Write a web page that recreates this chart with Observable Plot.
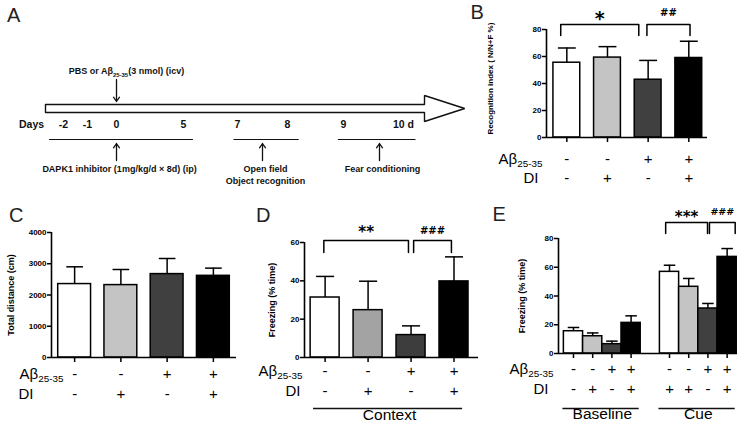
<!DOCTYPE html>
<html><head><meta charset="utf-8">
<script src="https://cdn.jsdelivr.net/npm/d3@7"></script>
<script src="https://cdn.jsdelivr.net/npm/@observablehq/plot@0.6"></script>
<style>
body{margin:0;background:#fff;}
#fig{position:relative;width:750px;height:429px;overflow:hidden;background:#fff;font-family:"Liberation Sans",Arial,sans-serif;}
.pane{position:absolute;}
.pane svg{display:block;overflow:visible;}
.letter{position:absolute;font-size:20px;line-height:20px;color:#222;}
</style></head><body><div id="fig"></div>
<script>
// ---------------- data ----------------
// Panel A: timeline
const dayValues = [-2, -1, 0, 5, 7, 8, 9, 10];
const dayLabels = ["-2", "-1", "0", "5", "7", "8", "9", "10 d"];
const phaseStart = [-2.6, 6.85, 8.9];
const phaseEnd = [5.35, 8.2, 10.2];
const phaseMarkDay = [0, 7.5, 9.6];
const phaseLabels = ["DAPK1 inhibitor (1mg/kg/d × 8d) (ip)", "Open field\nObject recognition", "Fear conditioning"];
const injectionDay = 0;
const injectionLabel = "PBS or Aβ_{25-35}(3 nmol) (icv)";
const timelineFrom = -2.75, timelineHead = 10.35, timelineTip = 11.02;

// Group coding
const abSigns = ["-", "-", "+", "+"];
const diSigns = ["-", "+", "-", "+"];
const cueDiSigns = ["+", "+", "-", "+"];

// Panel B: recognition index
const recogMean = [55.4, 59.2, 42.8, 58.9];
const recogErr  = [10.9, 8.1, 14.3, 12.4];
const recogTicks = [0, 20, 40, 60, 80];
const recogSig = [{from: -0.15, to: 1.77, label: "*"}, {from: 1.97, to: 3.03, label: "##"}];

// Panel C: total distance
const distMean = [2350, 2317, 2669, 2614];
const distErr  = [552, 499, 499, 246];
const distTicks = [0, 1000, 2000, 3000, 4000];

// Panel D: context freezing
const contextMean = [31.3, 24.7, 11.7, 39.7];
const contextErr  = [11.0, 15.1, 4.8, 12.8];
const contextTicks = [0, 20, 40, 60];
const contextSig = [{from: -0.03, to: 1.94, label: "**"}, {from: 2.06, to: 2.94, label: "###"}];

// Panel E: baseline / cue freezing
const baselineMean = [15.5, 12.0, 6.5, 21.3];
const baselineErr  = [2.6, 2.3, 2.1, 4.9];
const cueMean = [56.8, 46.4, 31.3, 67.2];
const cueErr  = [4.6, 5.8, 3.5, 5.8];
const cueTicks = [0, 20, 40, 60, 80];
const cueSig = [{from: 4.8, to: 6.98, label: "***"}, {from: 7.08, to: 8.42, label: "###"}];

// ---------------- helpers ----------------
const FONT = '"Liberation Sans", Arial, Helvetica, sans-serif';
const fig = document.getElementById("fig");
const NS = "http://www.w3.org/2000/svg";

function doSub(el) {
  const m = el.textContent.match(/^(.*?)_\{(.*?)\}(.*)$/);
  if (!m) return;
  el.textContent = "";
  const a = document.createElementNS(NS, "tspan"); a.textContent = m[1];
  const b = document.createElementNS(NS, "tspan"); b.textContent = m[2];
  b.style.fontSize = "66%"; b.setAttribute("dy", "0.4em");
  el.append(a, b);
  if (m[3]) {
    const c = document.createElementNS(NS, "tspan"); c.textContent = m[3];
    c.setAttribute("dy", "-0.264em"); el.append(c);
  }
}
function subify(svg) {
  svg.querySelectorAll("text").forEach(t => {
    const ts = t.querySelectorAll("tspan");
    if (ts.length) ts.forEach(doSub); else doSub(t);
  });
}
function place(node, left, top) {
  const d = document.createElement("div");
  d.className = "pane"; d.style.left = left + "px"; d.style.top = top + "px";
  d.appendChild(node); fig.appendChild(d);
  subify(node);
}
function letter(ch, left, top) {
  const d = document.createElement("div");
  d.className = "letter"; d.textContent = ch;
  d.style.left = left + "px"; d.style.top = top + "px";
  fig.appendChild(d);
}

// ---------------- Panel A ----------------
// the schematic's day axis is not uniform: a piecewise mapping of days along the timeline
const dayPos = d3.scaleLinear().domain(dayValues).range([63, 87, 116, 183, 237, 287, 343, 403]);
const days = dayValues.map((d, i) => ({day: d, label: dayLabels[i]}));
const phases = phaseStart.map((s, i) => ({start: s, end: phaseEnd[i], mark: phaseMarkDay[i], label: phaseLabels[i]}));
const arrowPts = [
  {x: timelineFrom, y: 104}, {x: timelineHead, y: 104}, {x: timelineHead, y: 95},
  {x: timelineTip, y: 108}, {x: timelineHead, y: 121}, {x: timelineHead, y: 112},
  {x: timelineFrom, y: 112}, {x: timelineFrom, y: 104}
];
const panelA = Plot.plot({
  width: 470, height: 200, margin: 0,
  style: {fontFamily: FONT, background: "transparent", color: "#111"},
  x: {type: "linear", transform: dayPos, domain: [0, 470], range: [0, 470], axis: null},
  y: {domain: [0, 200], range: [0, 200], axis: null},
  marks: [
    Plot.line(arrowPts, {x: "x", y: "y", fill: "white", stroke: "#111", strokeWidth: 1.4, strokeLinejoin: "miter"}),
    Plot.text(days, {x: "day", y: 124, text: "label", fontSize: 10.5, fontWeight: "bold"}),
    Plot.text(["Days"], {x: () => -3.33, y: 124, text: d => d, fontSize: 10.5, fontWeight: "bold"}),
    Plot.link(phases, {x1: "start", x2: "end", y1: 139, y2: 139, stroke: "#111", strokeWidth: 1.2}),
    Plot.arrow(phases, {x1: "mark", x2: "mark", y1: 160, y2: 143, stroke: "#111", strokeWidth: 1.3, headLength: 6, headAngle: 70}),
    Plot.text(phases, {x: "mark", y: 163, text: "label", lineAnchor: "top", lineHeight: 1.33, fontSize: 9, fontWeight: "bold", dx: 3}),
    Plot.arrow([injectionDay], {x1: d => d, x2: d => d, y1: 79, y2: 101, stroke: "#111", strokeWidth: 1.3, headLength: 6, headAngle: 70}),
    Plot.text([injectionLabel], {x: () => injectionDay, y: 71, text: d => d, dx: 10, fontSize: 9, fontWeight: "bold"})
  ]
});
place(panelA, 0, 0);

// ---------------- bar panels ----------------
function barPanel(o) {
  const rows = o.means.map((m, i) => ({x: o.slots[i], m, top: m + o.errs[i], fill: o.fills[i], ab: o.ab[i], di: o.di[i]}));
  const bw = o.barW, cw = o.capW;
  const sig = o.sig || [];
  const pts = sig.flatMap((b, k) => [
    {k, x: b.from, y: o.legY}, {k, x: b.from, y: o.topY}, {k, x: b.to, y: o.topY}, {k, x: b.to, y: o.legY}
  ]);
  const marks = [
    Plot.rect(rows, {x1: d => d.x - bw / 2, x2: d => d.x + bw / 2, y1: 0, y2: "m", fill: "fill", stroke: "#000", strokeWidth: 1.5}),
    Plot.ruleX(rows, {x: "x", y1: "m", y2: "top", stroke: "#000", strokeWidth: 1.5}),
    Plot.link(rows, {x1: d => d.x - cw / 2, x2: d => d.x + cw / 2, y1: "top", y2: "top", stroke: "#000", strokeWidth: 1.5}),
    Plot.ruleY([0], {stroke: "#000", strokeWidth: 1.6}),
    Plot.ruleX([o.xDomain[0]], {stroke: "#000", strokeWidth: 1.6}),
    Plot.axisY(o.yTicks, {tickSize: 4, tickPadding: 1, tickFormat: d => String(d), fontSize: 8, fontWeight: "bold", strokeWidth: 1.5, label: null}),
    Plot.axisX(o.slots, {tickSize: 5, tickFormat: () => "", strokeWidth: 1.5, label: null}),
    Plot.text([o.yTitle], {text: d => d, frameAnchor: "left", textAnchor: "middle", rotate: -90, dx: o.titleDx, dy: o.titleDy || 0, fontSize: o.titleSize, fontWeight: "bold"}),
    Plot.text(rows, {x: "x", text: "ab", frameAnchor: "bottom", dy: o.abDy, fontSize: 15}),
    Plot.text(rows, {x: "x", text: "di", frameAnchor: "bottom", dy: o.diDy, fontSize: 15}),
    Plot.text(["Aβ_{25-35}"], {text: d => d, frameAnchor: "bottom-left", textAnchor: "end", dx: o.abLabelDx, dy: o.abDy, fontSize: 15}),
    Plot.text(["DI"], {text: d => d, frameAnchor: "bottom-left", textAnchor: o.diAnchor || "end", dx: o.diLabelDx, dy: o.diDy, fontSize: 15})
  ];
  if (sig.length) {
    marks.push(Plot.line(pts, {x: "x", y: "y", z: "k", stroke: "#000", strokeWidth: 1.5}));
    sig.forEach((b, k) => {
      const st = o.sigStyle[k];
      marks.push(Plot.text([b], {x: d => (d.from + d.to) / 2, y: () => o.topY, text: "label", dy: st.dy, fontSize: st.size, fontWeight: "bold", fontFamily: "DejaVu Sans", letterSpacing: st.ls || 0}));
    });
  }
  if (o.groups) {
    marks.push(Plot.ruleY(o.groups, {y: 0, x1: g => g.from - o.ulExtL, x2: g => g.to + o.ulExtR, dy: o.ulDy, stroke: "#111", strokeWidth: 1.6}));
    marks.push(Plot.text(o.groups, {x: g => (g.from + g.to) / 2, text: "label", frameAnchor: "bottom", dy: o.glDy, fontSize: 15.5}));
  }
  return Plot.plot({
    width: o.width, height: o.height,
    marginLeft: o.ml, marginRight: o.mr, marginTop: o.mt, marginBottom: o.mb,
    style: {fontFamily: FONT, background: "transparent", color: "#000", overflow: "visible"},
    x: {domain: o.xDomain, label: null},
    y: {domain: [0, o.yTicks[o.yTicks.length - 1]], label: null},
    color: {type: "identity"},
    marks
  });
}

// Panel B
place(barPanel({
  width: 280, height: 200, ml: 76, mr: 43, mt: 29, mb: 63,
  xDomain: [-0.5, 3.46], slots: [0, 1, 2, 3], barW: 0.66, capW: 0.44,
  means: recogMean, errs: recogErr, yTicks: recogTicks,
  fills: ["#ffffff", "#c4c4c4", "#404040", "#000000"],
  ab: abSigns, di: diSigns,
  yTitle: "Recognition index ( N/N+F %)", titleDx: -56, titleDy: -5, titleSize: 8,
  abDy: 26, diDy: 45, abLabelDx: -4, diLabelDx: -8,
  sig: recogSig, topY: 83.7, legY: 75.6,
  sigStyle: [{dy: -5.6, size: 19}, {dy: -11.8, size: 10, ls: 1.5}]
}), 470, 0);

// Panel C
place(barPanel({
  width: 250, height: 229, ml: 51, mr: 14, mt: 32, mb: 72,
  xDomain: [-0.5, 3.5], slots: [0, 1, 2, 3], barW: 0.71, capW: 0.36,
  means: distMean, errs: distErr, yTicks: distTicks,
  fills: ["#ffffff", "#c4c4c4", "#404040", "#000000"],
  ab: abSigns, di: diSigns,
  yTitle: "Total distance (cm)", titleDx: -40, titleSize: 9,
  abDy: 21, diDy: 41, abLabelDx: 12, diLabelDx: -33, diAnchor: "start"
}), 0, 200);

// Panel D
place(barPanel({
  width: 240, height: 229, ml: 54, mr: 12, mt: 42, mb: 72,
  xDomain: [-0.48, 3.57], slots: [0, 1, 2, 3], barW: 0.675, capW: 0.42,
  means: contextMean, errs: contextErr, yTicks: contextTicks,
  fills: ["#ffffff", "#a3a3a3", "#3d3d3d", "#000000"],
  ab: abSigns, di: diSigns,
  yTitle: "Freezing (% time)", titleDx: -32, titleSize: 9,
  abDy: 18, diDy: 38, abLabelDx: -2, diLabelDx: -4,
  sig: contextSig, topY: 61, legY: 54.8,
  sigStyle: [{dy: -8, size: 15}, {dy: -10, size: 10, ls: 0.5}],
  groups: [{from: 0, to: 3, label: "Context"}], ulExtL: 0.27, ulExtR: 0.2, ulDy: 51, glDy: 62
}), 250, 200);

// Panel E
place(barPanel({
  width: 260, height: 229, ml: 68, mr: 13, mt: 38, mb: 76,
  xDomain: [-0.78, 8.54], slots: [0, 1, 2, 3, 5, 6, 7, 8], barW: 1.0, capW: 0.6,
  means: baselineMean.concat(cueMean), errs: baselineErr.concat(cueErr), yTicks: cueTicks,
  fills: ["#ffffff", "#c4c4c4", "#404040", "#000000", "#ffffff", "#c4c4c4", "#404040", "#000000"],
  ab: abSigns.concat(abSigns), di: diSigns.concat(cueDiSigns),
  yTitle: "Freezing (% time)", titleDx: -36, titleSize: 9,
  abDy: 20, diDy: 40, abLabelDx: -5, diLabelDx: -10,
  sig: cueSig, topY: 91.1, legY: 83.5,
  sigStyle: [{dy: -5.5, size: 15}, {dy: -10.5, size: 9.5}],
  groups: [{from: 0, to: 3, label: "Baseline"}, {from: 5, to: 8, label: "Cue"}], ulExtL: 0.55, ulExtR: 0.42, ulDy: 55, glDy: 65
}), 490, 200);

// Panel letters
letter("A", 7, 5.4);
letter("B", 470.5, 2.4);
letter("C", 9, 205.4);
letter("D", 256, 205.4);
letter("E", 492.5, 204.4);
</script>
</body></html>
